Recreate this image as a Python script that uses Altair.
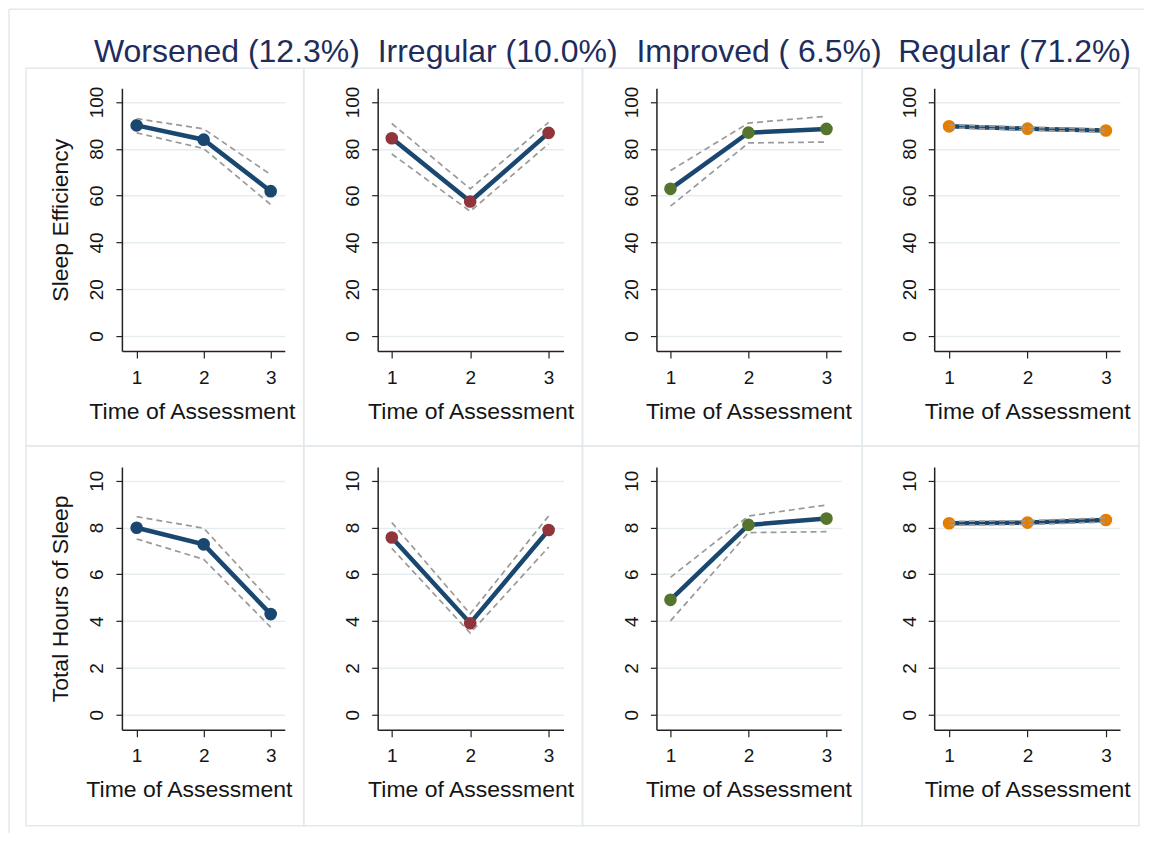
import altair as alt
import pandas as pd

# ---------------- data ----------------
groups = ["Worsened", "Irregular", "Improved", "Regular"]
col_titles = ["Worsened (12.3%)", "Irregular (10.0%)", "Improved ( 6.5%)", "Regular (71.2%)"]
marker_colors = ["#1a476f", "#90353b", "#55752f", "#e37e00"]
times = [1, 2, 3]

# Sleep efficiency (%)
se_worsened_mean = [90.0, 83.9, 61.9]
se_worsened_lo = [86.8, 80.1, 56.2]
se_worsened_hi = [92.9, 88.5, 69.0]
se_irregular_mean = [84.5, 57.5, 86.8]
se_irregular_lo = [77.8, 53.3, 82.1]
se_irregular_hi = [90.8, 62.9, 91.3]
se_improved_mean = [62.9, 86.9, 88.5]
se_improved_lo = [55.5, 82.5, 82.9]
se_improved_hi = [70.7, 91.0, 93.9]
se_regular_mean = [89.6, 88.6, 87.8]
se_regular_lo = [89.0, 88.0, 87.2]
se_regular_hi = [90.2, 89.2, 88.4]

# Total hours of sleep
ts_worsened_mean = [7.99, 7.28, 4.30]
ts_worsened_lo = [7.51, 6.64, 3.74]
ts_worsened_hi = [8.46, 7.97, 4.86]
ts_irregular_mean = [7.57, 3.91, 7.89]
ts_irregular_lo = [7.11, 3.49, 7.16]
ts_irregular_hi = [8.21, 4.31, 8.49]
ts_improved_mean = [4.91, 8.11, 8.38]
ts_improved_lo = [4.01, 7.78, 7.82]
ts_improved_hi = [5.87, 8.49, 8.96]
ts_regular_mean = [8.18, 8.21, 8.32]
ts_regular_lo = [8.10, 8.13, 8.23]
ts_regular_hi = [8.26, 8.29, 8.41]

se_ticks = [0, 20, 40, 60, 80, 100]
ts_ticks = [0, 2, 4, 6, 8, 10]
x_ticks = [1, 2, 3]
row_titles = ["Sleep Efficiency", "Total Hours of Sleep"]
x_title = "Time of Assessment"

series = {
    ("se", "Worsened"): (se_worsened_mean, se_worsened_lo, se_worsened_hi),
    ("se", "Irregular"): (se_irregular_mean, se_irregular_lo, se_irregular_hi),
    ("se", "Improved"): (se_improved_mean, se_improved_lo, se_improved_hi),
    ("se", "Regular"): (se_regular_mean, se_regular_lo, se_regular_hi),
    ("ts", "Worsened"): (ts_worsened_mean, ts_worsened_lo, ts_worsened_hi),
    ("ts", "Irregular"): (ts_irregular_mean, ts_irregular_lo, ts_irregular_hi),
    ("ts", "Improved"): (ts_improved_mean, ts_improved_lo, ts_improved_hi),
    ("ts", "Regular"): (ts_regular_mean, ts_regular_lo, ts_regular_hi),
}

# ---------------- style / layout ----------------
FONT = "Liberation Sans"
NAVY = "#1a476f"
TITLE_COLOR = "#1e2d5c"
FRAME = "#e2e9ed"
GRID = "#e6edf1"
CI = "#9a9a9a"
TXT = "#151515"
H = 263
widths = [163, 186, 185, 186]
x_domains = [[0.78, 3.21], [0.82, 3.19], [0.82, 3.19], [0.81, 3.18]]
frame_x = [(-96, 182), (-74, 205), (-74, 206), (-72, 205)]
frame_y = [(-20, 358), (-21, 359)]
title_x = [-28, 0, -20, -36]
xtitle_x = [[70, 93, 92, 93], [67, 93, 92, 93]]
one = pd.DataFrame({"a": [0]})


def panel(row, col):
    meas = "se" if row == 0 else "ts"
    g = groups[col]
    m, lo, hi = series[(meas, g)]
    df = pd.DataFrame({"time": times, "mean": m, "lo": lo, "hi": hi})
    ydom = [-6.4, 105.85] if row == 0 else [-0.64, 10.585]
    yticks = se_ticks if row == 0 else ts_ticks
    xscale = alt.Scale(domain=x_domains[col], nice=False, zero=False)
    yscale = alt.Scale(domain=ydom, nice=False, zero=False)

    xaxis = alt.Axis(
        values=x_ticks, format="d", title=x_title, grid=False,
        labelFontSize=19, labelFont=FONT, labelColor=TXT,
        labelBaseline="alphabetic", labelPadding=25, labelAngle=0,
        tickSize=7, tickColor="#222", tickWidth=1.2,
        domainColor="#222", domainWidth=1.5,
        titleFontSize=23, titleFont=FONT, titleColor=TXT, titleFontWeight="normal",
        titleX=xtitle_x[row][col], titleY=67, titleAlign="center", titleBaseline="alphabetic",
    )
    yaxis_kw = dict(
        values=yticks, format="d", grid=True, gridColor=GRID, gridWidth=1.5,
        labelFontSize=19, labelFont=FONT, labelColor=TXT,
        labelAngle=270, labelAlign="center", labelBaseline="alphabetic", labelPadding=13,
        tickSize=6, tickColor="#222", tickWidth=1.2,
        domainColor="#222", domainWidth=1.5,
        titleFontSize=23, titleFont=FONT, titleColor=TXT,
        titleFontWeight="normal", titleAngle=270, titleX=-54, titleY=H / 2,
        titleAlign="center", titleBaseline="alphabetic",
    )
    ytitle = row_titles[row] if col == 0 else ""
    yaxis = alt.Axis(title=ytitle, **yaxis_kw)

    X = alt.X("time:Q", scale=xscale, axis=xaxis)
    base = alt.Chart(df)
    line = base.mark_line(color=NAVY, strokeWidth=4.5).encode(
        x=X, y=alt.Y("mean:Q", scale=yscale, axis=yaxis),
    )
    pts = base.mark_point(filled=True, size=160, color=marker_colors[col], opacity=1).encode(
        x=X, y=alt.Y("mean:Q", scale=yscale, axis=yaxis),
    )
    ci = base.transform_fold(["lo", "hi"], as_=["bound", "val"]).mark_line(
        color=CI, strokeWidth=1.7, strokeDash=[6, 4]
    ).encode(
        x=X, y=alt.Y("val:Q", scale=yscale, axis=yaxis),
        detail="bound:N",
    )
    fx1, fx2 = frame_x[col]
    fy1, fy2 = frame_y[row]
    frame = alt.Chart(one).mark_rect(fillOpacity=0, stroke=FRAME, strokeWidth=1.5).encode(
        x=alt.value(fx1), x2=alt.value(fx2), y=alt.value(fy1), y2=alt.value(fy2)
    )
    layers = [line, pts, ci, frame]

    if row == 0:
        tdf = pd.DataFrame({"t": [col_titles[col]]})
        title = alt.Chart(tdf).mark_text(
            align="left", baseline="alphabetic", fontSize=32, font=FONT, color=TITLE_COLOR
        ).encode(x=alt.value(title_x[col]), y=alt.value(-26), text="t:N")
        layers.append(title)
        # outer graph border (top edge)
        right = fx2 if col < 3 else 210
        left = -113 if col == 0 else fx1
        layers.append(alt.Chart(one).mark_rule(color=FRAME, strokeWidth=1.5).encode(
            x=alt.value(left), x2=alt.value(right), y=alt.value(-79)))
    if col == 0:
        y1, y2 = (-79, fy2) if row == 0 else (fy1, 366)
        layers.append(alt.Chart(one).mark_rule(color=FRAME, strokeWidth=1.5).encode(
            x=alt.value(-113), y=alt.value(y1), y2=alt.value(y2)))

    return alt.layer(*layers).properties(width=widths[col], height=H)


panels = [panel(r, c) for r in range(2) for c in range(4)]

chart = alt.concat(
    *panels, columns=4, spacing=alt.RowColnumber(row=116, column=93),
    bounds="flush", align="each",
).properties(padding=0, background="white").configure_view(strokeWidth=0)

chart.save("out.html", embed_options={"renderer": "svg", "actions": False})
